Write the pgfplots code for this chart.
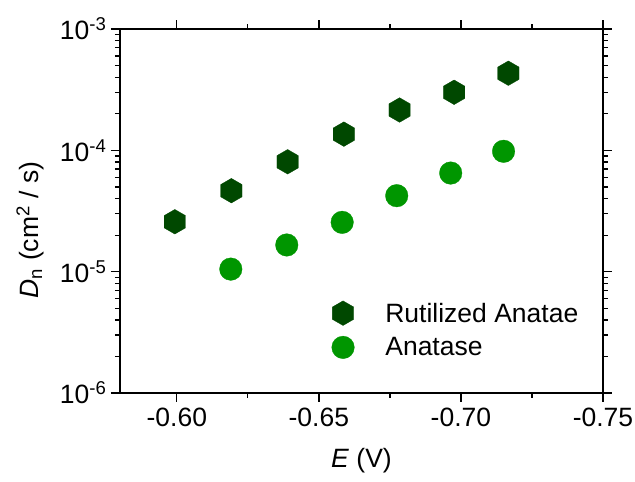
\documentclass[border=0pt]{standalone}
\usepackage{fontspec}
\setmainfont{Liberation Sans}
\usepackage{pgfplots}
\pgfplotsset{compat=1.18}
\definecolor{dgreen}{RGB}{0,72,0}
\definecolor{lgreen}{RGB}{0,150,0}
\pgfdeclareplotmark{hexagon}{%
  \pgfpathmoveto{\pgfqpointpolar{90}{\pgfplotmarksize}}%
  \pgfpathlineto{\pgfqpointpolar{150}{\pgfplotmarksize}}%
  \pgfpathlineto{\pgfqpointpolar{210}{\pgfplotmarksize}}%
  \pgfpathlineto{\pgfqpointpolar{270}{\pgfplotmarksize}}%
  \pgfpathlineto{\pgfqpointpolar{330}{\pgfplotmarksize}}%
  \pgfpathlineto{\pgfqpointpolar{30}{\pgfplotmarksize}}%
  \pgfpathclose
  \pgfusepathqfillstroke}
\begin{document}
\begin{tikzpicture}
\begin{axis}[
  name=ax,
  scale only axis,
  width=483pt, height=364pt,
  x dir=reverse,
  xmin=-0.75, xmax=-0.58,
  ymode=log, ymin=1e-6, ymax=1e-3,
  xtick={-0.60,-0.65,-0.70,-0.75},
  xticklabels={-0.60,-0.65,-0.70,-0.75},
  minor x tick num=1,
  ytick={1e-6,1e-5,1e-4,1e-3},
  yticklabels={10\textsuperscript{-6},10\textsuperscript{-5},10\textsuperscript{-4},10\textsuperscript{-3}},
  tick align=outside,
  axis line style={line width=1.5pt},
  every tick/.style={black, line width=1.3pt},
  major tick length=9pt, minor tick length=5pt,
  tick label style={font=\fontsize{26.5}{30}\selectfont},
  xticklabel style={yshift=-2pt},
  yticklabel style={xshift=-1pt},
  xlabel={\textit{E} (V)},
  ylabel={\textit{D}\textsubscript{n} (cm\textsuperscript{2} / s)},
  label style={font=\fontsize{26.5}{30}\selectfont},
  xlabel style={at={(axis description cs:0.5,-0.185)}, anchor=center},
  ylabel style={at={(axis description cs:-0.186,0.448)}, anchor=center},
  legend style={draw=none, fill=none, font=\fontsize{26.5}{30}\selectfont,
    at={(axis description cs:0.438,0.173)}, anchor=west,
    row sep=10pt, inner sep=0pt,
    /tikz/every odd column/.append style={column sep=29pt}},
  legend cell align=left,
]
\addplot[only marks, mark=hexagon, mark size=12.3pt, draw=dgreen, fill=dgreen, line width=0.3pt]
  coordinates {(-0.5993,2.58e-5) (-0.6192,4.65e-5) (-0.6390,8.05e-5) (-0.6588,1.36e-4) (-0.6784,2.15e-4) (-0.6976,3.01e-4) (-0.7167,4.32e-4)};
\addlegendentry{Rutilized Anatae}
\addplot[only marks, mark=*, mark size=11.3pt, draw=lgreen, fill=lgreen, line width=0.3pt]
  coordinates {(-0.6190,1.05e-5) (-0.6387,1.66e-5) (-0.6582,2.55e-5) (-0.6774,4.23e-5) (-0.6964,6.50e-5) (-0.7150,9.82e-5)};
\addlegendentry{Anatase}
\end{axis}
\pgfresetboundingbox
\path ([xshift=-120pt,yshift=-88pt]ax.south west) rectangle ([xshift=32pt,yshift=29pt]ax.north east);
\end{tikzpicture}
\end{document}
